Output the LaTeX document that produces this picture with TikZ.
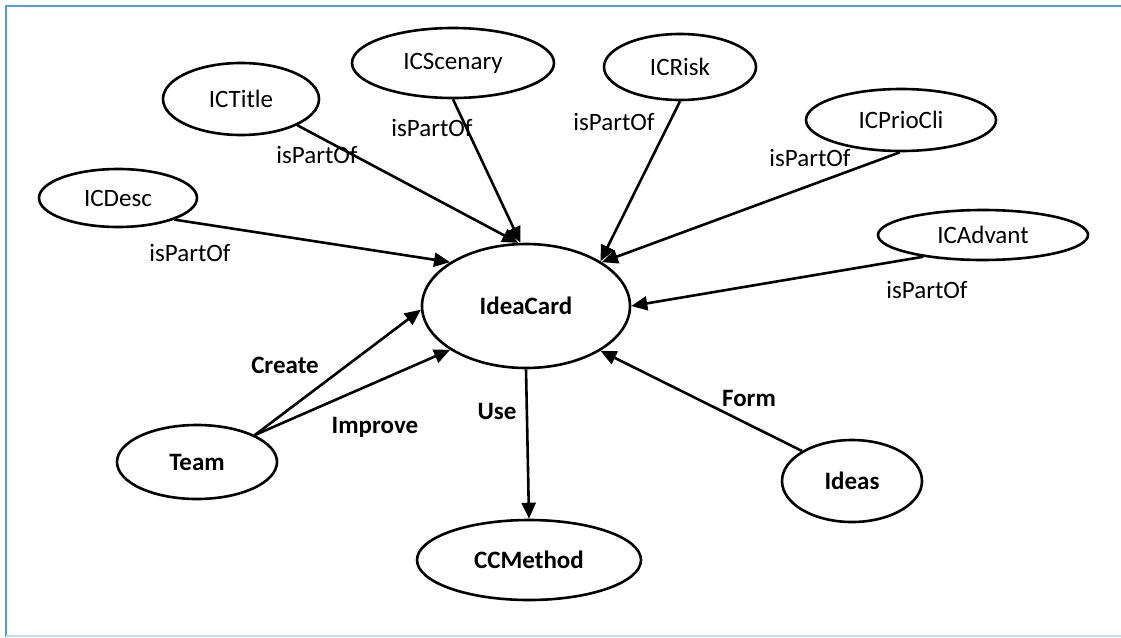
\documentclass[tikz,border=0pt]{standalone}
\usepackage{fontspec}
\setmainfont{Carlito}
\usetikzlibrary{arrows.meta,shapes.geometric}
\definecolor{frameblue}{HTML}{5B9BD5}
\definecolor{framelight}{HTML}{C5DCF0}
\begin{document}
\begin{tikzpicture}[x=1pt,y=-1pt,
  ent/.style={ellipse,draw,line width=2.6pt,inner sep=0pt,font=\fontsize{25}{30}\selectfont},
  bent/.style={ent,font=\fontsize{25}{30}\selectfont\bfseries},
  lbl/.style={inner sep=0pt,font=\fontsize{25}{30}\selectfont},
  blbl/.style={inner sep=0pt,font=\fontsize{25}{30}\selectfont\bfseries},
  rel/.style={line width=2.6pt,-{Triangle[length=16pt,width=14pt]}}]
\useasboundingbox (0,0) rectangle (1121,637);
% frame
\draw[frameblue,line width=2pt] (6,637) -- (6,6) -- (1121,6);
\draw[framelight,line width=2pt] (6,636) -- (1121,636);
% nodes
\node[bent,minimum width=208pt,minimum height=124pt] (ic) at (526,306) {IdeaCard};
\node[ent,minimum width=156pt,minimum height=72pt] (title) at (241,99) {ICTitle};
\node[ent,minimum width=202pt,minimum height=70pt] (scen) at (453,63) {ICScenary};
\node[ent,minimum width=152pt,minimum height=66pt] (risk) at (680,67) {ICRisk};
\node[ent,minimum width=190pt,minimum height=62pt] (prio) at (901,120) {ICPrioCli};
\node[ent,minimum width=210pt,minimum height=50pt] (adv) at (983,235) {ICAdvant};
\node[ent,minimum width=158pt,minimum height=58pt] (desc) at (118,198) {ICDesc};
\node[bent,minimum width=160pt,minimum height=74pt] (team) at (197,462) {Team};
\node[bent,minimum width=224pt,minimum height=80pt] (ccm) at (529,560) {CCMethod};
\node[bent,minimum width=140pt,minimum height=82pt] (ideas) at (852,481) {Ideas};
% connectors
\draw[rel] (desc.-21) -- (ic.150);
\draw[rel] (title.-25) -- (ic.97);
\draw[rel] (scen.south) -- (ic.95);
\draw[rel] (risk.south) -- (ic.31);
\draw[rel] (prio.268) -- (ic.30);
\draw[rel] (adv.200) -- (ic.0);
\draw[rel] (team.25) -- (ic.182);
\draw[rel] (team.25) -- (ic.210);
\draw[rel] (ic.270) -- (ccm.north);
\draw[rel] (ideas.149) -- (ic.-31);
% labels
\node[lbl] (l1) at (317,155) {isPartOf};
\node[lbl] (l2) at (432,128) {isPartOf};
\node[lbl] (l3) at (614,122) {isPartOf};
\node[lbl] (l4) at (810,158) {isPartOf};
\node[lbl] (l5) at (927,290) {isPartOf};
\node[lbl] (l6) at (190,253) {isPartOf};
\node[blbl] (l7) at (285,365) {Create};
\node[blbl] (l8) at (375,427) {Improve};
\node[blbl] (l9) at (497,411) {Use};
\node[blbl] (l10) at (749,398) {Form};
\end{tikzpicture}
\end{document}
